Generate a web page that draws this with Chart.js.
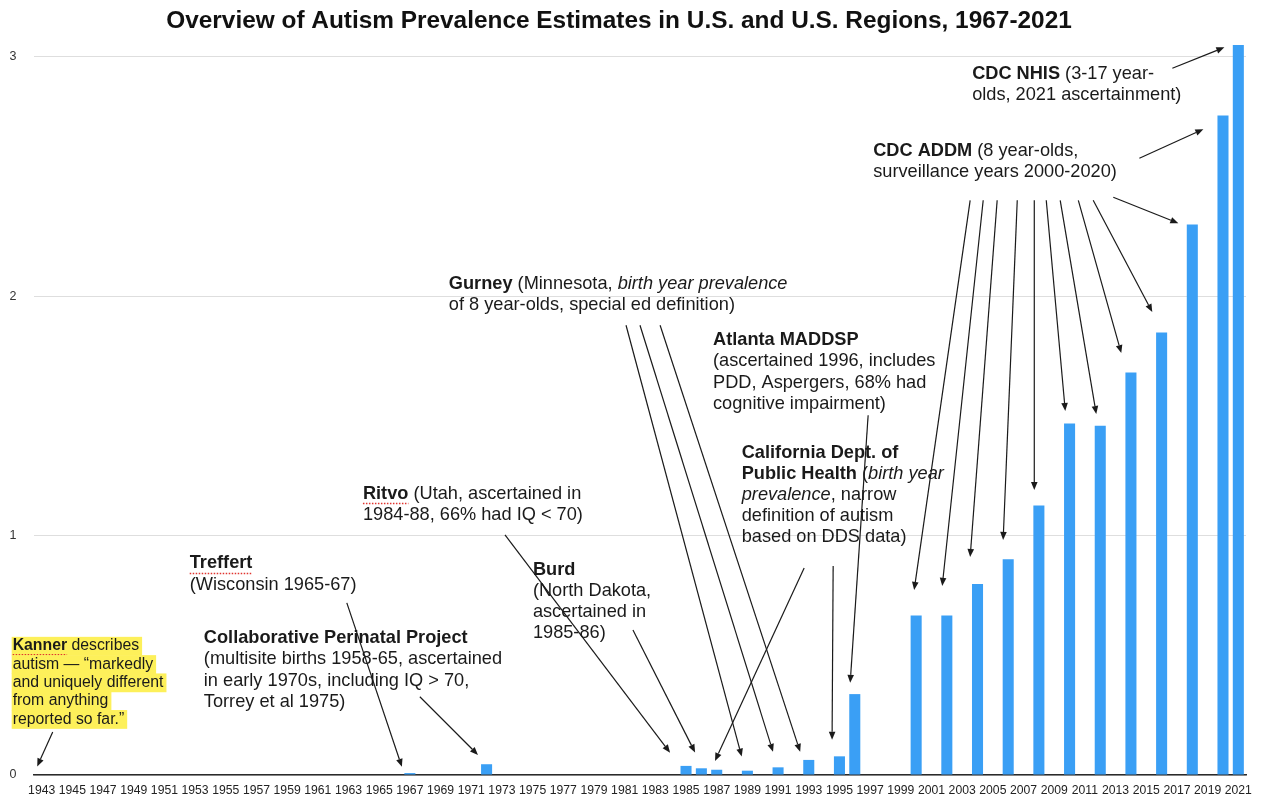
<!DOCTYPE html>
<html>
<head>
<meta charset="utf-8">
<script src="https://cdn.jsdelivr.net/npm/chart.js@4.4.1/dist/chart.umd.min.js"></script>
<style>
html,body{margin:0;padding:0;background:#fff;}
#wrap{width:1262px;height:797px;position:relative;}
</style>
</head>
<body>
<div id="wrap"><canvas id="c"></canvas></div>
<script>
// ---- data ----
const years = [1943,1944,1945,1946,1947,1948,1949,1950,1951,1952,1953,1954,1955,1956,1957,1958,1959,1960,1961,1962,1963,1964,1965,1966,1967,1968,1969,1970,1971,1972,1973,1974,1975,1976,1977,1978,1979,1980,1981,1982,1983,1984,1985,1986,1987,1988,1989,1990,1991,1992,1993,1994,1995,1996,1997,1998,1999,2000,2001,2002,2003,2004,2005,2006,2007,2008,2009,2010,2011,2012,2013,2014,2015,2016,2017,2018,2019,2020,2021];
const tickYears = [1943,1945,1947,1949,1951,1953,1955,1957,1959,1961,1963,1965,1967,1969,1971,1973,1975,1977,1979,1981,1983,1985,1987,1989,1991,1993,1995,1997,1999,2001,2003,2005,2007,2009,2011,2013,2015,2017,2019,2021];
const studyYears = [1967,1972,1985,1986,1987,1989,1991,1993,1995,1996,2000,2002,2004,2006,2008,2010,2012,2014,2016,2018,2020,2021];
const prevalence = [0.008,0.045,0.038,0.028,0.022,0.018,0.032,0.063,0.078,0.338,0.666,0.666,0.798,0.901,1.126,1.469,1.459,1.682,1.849,2.30,2.755,3.05];
const yTicks = [0,1,2,3];
const titleText = 'Overview of Autism Prevalence Estimates in U.S. and U.S. Regions, 1967-2021';

// annotations: text anchor [year, value] of first line, arrows [fromYear, fromVal, toYear, toVal]
const notes = [
  {at:[1941.11,0.539], size:15.8, lh:18.3, highlight:true,
   lines:['**Kanner** describes','autism — “markedly','and uniquely different','from anything','reported so far.”'],
   arrows:[[1943.72,0.180,1942.71,0.036]]},
  {at:[1952.65,0.884], lines:['**Treffert**','(Wisconsin 1965-67)'],
   arrows:[[1962.89,0.719,1966.48,0.034]]},
  {at:[1953.57,0.572], lines:['**Collaborative Perinatal Project**','(multisite births 1958-65, ascertained','in early 1970s, including IQ > 70,','Torrey et al 1975)'],
   arrows:[[1967.65,0.327,1971.44,0.084]]},
  {at:[1963.94,1.176], lines:['**Ritvo** (Utah, ascertained in','1984-88, 66% had IQ < 70)'],
   arrows:[[1973.2,1.003,1983.96,0.093]]},
  {at:[1975.02,0.857], lines:['**Burd**','(North Dakota,','ascertained in','1985-86)'],
   arrows:[[1981.54,0.606,1985.59,0.094]]},
  {at:[1969.54,2.051], lines:['**Gurney** (Minnesota, _birth year prevalence_','of 8 year-olds, special ed definition)'],
   arrows:[[1981.09,1.879,1988.63,0.077],[1982.0,1.879,1990.67,0.097],[1983.31,1.879,1992.44,0.097]]},
  {at:[1986.76,1.817], lines:['**Atlanta MADDSP**','(ascertained 1996, includes','PDD, Aspergers, 68% had','cognitive impairment)'],
   arrows:[[1996.87,1.503,1995.70,0.385]]},
  {at:[1988.63,1.347], lines:['**California Dept. of**','**Public Health** (_birth year_','_prevalence_, narrow','definition of autism','based on DDS data)'],
   arrows:[[1992.70,0.865,1986.89,0.059],[1994.59,0.873,1994.52,0.147]]},
  {at:[1997.20,2.606], lines:['**CDC ADDM** (8 year-olds,','surveillance years 2000-2020)'],
   arrows:[[2003.52,2.401,1999.87,0.773],[2004.37,2.401,2001.70,0.790],[2005.28,2.401,2003.52,0.911],
           [2006.59,2.401,2005.67,0.982],[2007.70,2.401,2007.70,1.191],[2008.48,2.401,2009.72,1.521],
           [2009.39,2.401,2011.74,1.508],[2010.57,2.401,2013.37,1.763],[2011.54,2.401,2015.39,1.934],
           [2012.85,2.414,2017.09,2.305],[2014.55,2.577,2018.72,2.698]]},
  {at:[2003.65,2.928], lines:['**CDC NHIS** (3-17 year-','olds, 2021 ascertainment)'],
   arrows:[[2016.70,2.953,2020.09,3.040]]}
];
const spellWords = ['Kanner','Treffert','Ritvo'];

// ---- build ----
const barValues = years.map(y => { const i = studyYears.indexOf(y); return i >= 0 ? prevalence[i] : null; });
const FONT = '"Liberation Sans", Arial, Helvetica, sans-serif';

function parseLine(s){
  return s.split(/(\*\*[^*]+\*\*|_[^_]+_)/).filter(t => t.length).map(t => {
    if (t.startsWith('**')) return {t:t.slice(2,-2), b:true};
    if (t.startsWith('_') && t.endsWith('_') && t.length>2) return {t:t.slice(1,-1), i:true};
    return {t:t};
  });
}

const notesPlugin = {
  id:'notes',
  afterDatasetsDraw(chart){
    const ctx = chart.ctx, xs = chart.scales.x, ys = chart.scales.y;
    const px = yr => xs.getPixelForValue(yr - years[0]);
    const py = v => ys.getPixelForValue(v);
    ctx.save();
    ctx.fillStyle = '#111';
    ctx.textAlign = 'center';
    ctx.textBaseline = 'middle';
    ctx.font = 'bold 24.4px ' + FONT;
    ctx.fillText(titleText, 619, 21);

    ctx.textAlign = 'left';
    notes.forEach(n => {
      const size = n.size || 18.2, lh = n.lh || 21.2;
      const x0 = px(n.at[0]), y0 = py(n.at[1]);
      n.lines.forEach((line, li) => {
        const segs = parseLine(line);
        const cy = y0 + li*lh;
        const fontFor = s => (s.i?'italic ':'') + (s.b?'bold ':'') + size + 'px ' + FONT;
        if (n.highlight){
          let w = 0;
          segs.forEach(s => { ctx.font = fontFor(s); w += ctx.measureText(s.t).width; });
          ctx.fillStyle = '#fdf05a';
          ctx.fillRect(x0 - 1, cy - lh/2, w + 4, lh + 0.5);
        }
        let cx = x0;
        segs.forEach(s => {
          ctx.font = fontFor(s);
          ctx.fillStyle = '#1a1a1a';
          ctx.fillText(s.t, cx, cy);
          const w = ctx.measureText(s.t).width;
          if (s.b && spellWords.includes(s.t)){
            ctx.save();
            ctx.strokeStyle = '#e0342f';
            ctx.lineWidth = 1.5;
            ctx.setLineDash([1.5,1.5]);
            ctx.beginPath();
            ctx.moveTo(cx, cy + size*0.55);
            ctx.lineTo(cx + w, cy + size*0.55);
            ctx.stroke();
            ctx.restore();
          }
          cx += w;
        });
      });
    });

    ctx.strokeStyle = '#1a1a1a';
    ctx.fillStyle = '#1a1a1a';
    ctx.lineWidth = 1.2;
    notes.forEach(n => n.arrows.forEach(a => {
      const x1 = px(a[0]), y1 = py(a[1]), x2 = px(a[2]), y2 = py(a[3]);
      const ang = Math.atan2(y2-y1, x2-x1), L = 8, W = 3.3;
      const bx = x2 - L*Math.cos(ang), by = y2 - L*Math.sin(ang);
      ctx.beginPath(); ctx.moveTo(x1,y1); ctx.lineTo(bx,by); ctx.stroke();
      ctx.beginPath();
      ctx.moveTo(x2,y2);
      ctx.lineTo(bx + W*Math.sin(ang), by - W*Math.cos(ang));
      ctx.lineTo(bx - W*Math.sin(ang), by + W*Math.cos(ang));
      ctx.closePath(); ctx.fill();
    }));
    ctx.restore();
  }
};

new Chart(document.getElementById('c'), {
  type:'bar',
  data:{
    labels: years.map(String),
    datasets:[{
      data: barValues,
      backgroundColor:'rgb(58,159,245)',
      borderWidth:0,
      categoryPercentage:0.8,
      barPercentage:0.9
    }]
  },
  options:{
    responsive:true,
    maintainAspectRatio:false,
    animation:false,
    layout:{padding:{top:33,right:16,bottom:0,left:9.5}},
    plugins:{legend:{display:false},title:{display:false},tooltip:{enabled:false}},
    scales:{
      x:{
        afterFit:s => { s.height = 22; },
        grid:{display:false,drawTicks:false},
        border:{display:true,color:'#2a2a2a',width:1.6},
        ticks:{
          autoSkip:false,maxRotation:0,minRotation:0,padding:8,
          color:'#222',font:{family:FONT,size:12.2},
          callback:(v,i) => tickYears.includes(years[i]) ? String(years[i]) : ''
        }
      },
      y:{
        min:0,max:3.1,
        afterBuildTicks:s => { s.ticks = yTicks.map(v => ({value:v})); },
        afterFit:s => { s.width = 24.5; },
        grid:{color:'#dedede',lineWidth:1,drawTicks:false},
        border:{display:false},
        ticks:{padding:0,crossAlign:'far',color:'#333',font:{family:FONT,size:12.5}}
      }
    }
  },
  plugins:[notesPlugin]
});
</script>
</body>
</html>
